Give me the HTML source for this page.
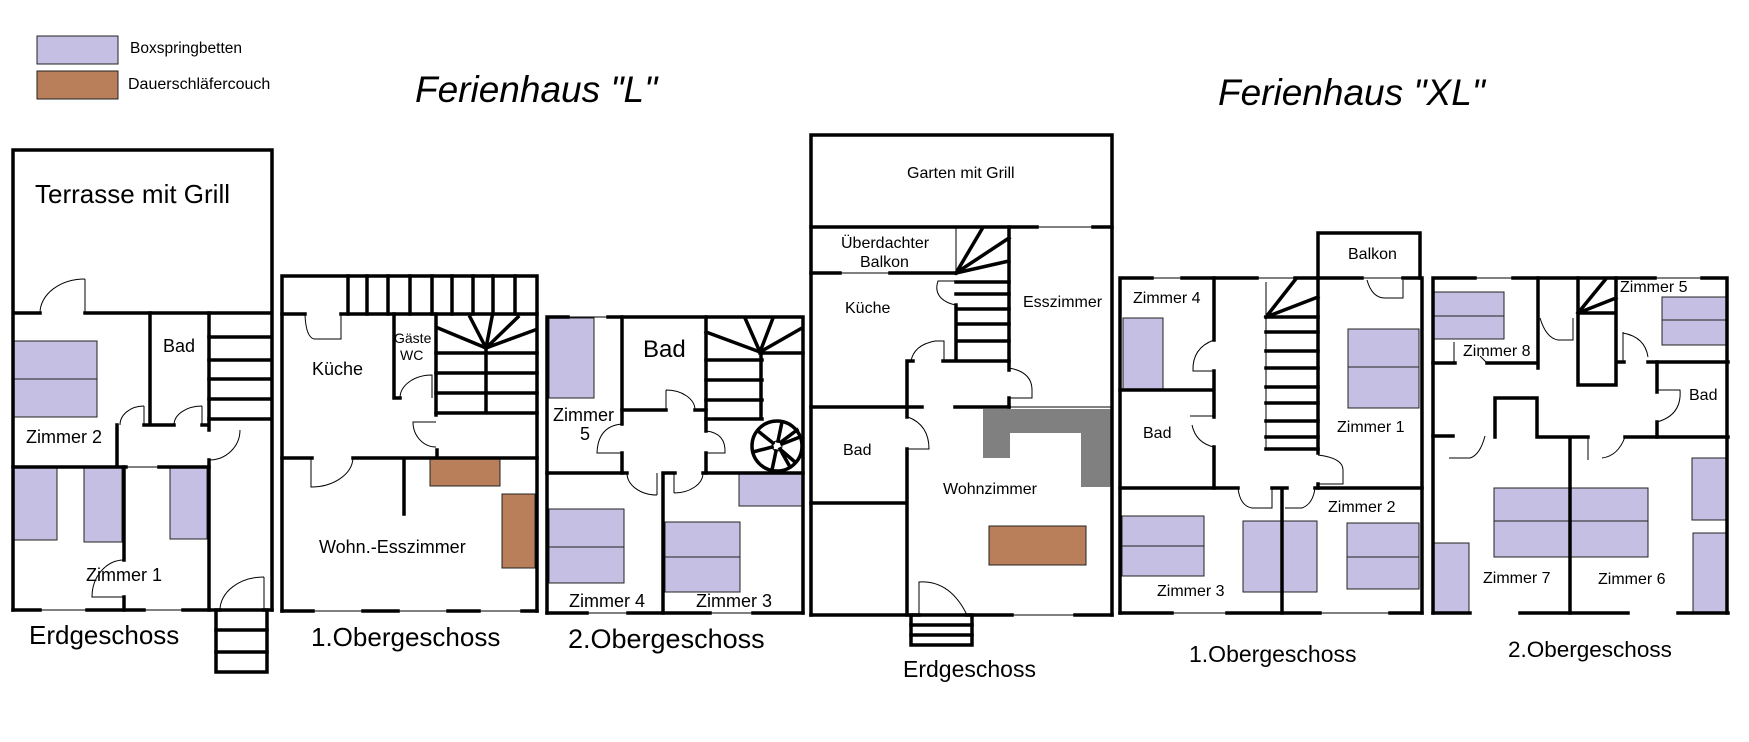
<!DOCTYPE html>
<html><head><meta charset="utf-8">
<style>
html,body{margin:0;padding:0;background:#fff;}
svg{display:block;}
.w{stroke:#000;stroke-width:3.5;stroke-linecap:square;fill:none;}
.t{stroke:#000;stroke-width:1;fill:none;}
.b{fill:#c5bfe3;stroke:#222;stroke-width:1;}
.c{fill:#b97e5a;stroke:#222;stroke-width:1;}
text{font-family:"Liberation Sans",Arial,sans-serif;fill:#000;}
</style></head>
<body>
<svg width="1749" height="742" viewBox="0 0 1749 742" xmlns="http://www.w3.org/2000/svg">
<rect width="1749" height="742" fill="#fff"/>

<!-- Legend -->
<rect x="37" y="36" width="81" height="28" class="b"/>
<rect x="37" y="71" width="81" height="28" class="c"/>
<text x="130" y="53" font-size="15.5">Boxspringbetten</text>
<text x="128" y="89" font-size="16">Dauerschläfercouch</text>

<!-- Titles -->
<text x="415" y="102" font-size="37" font-style="italic">Ferienhaus "L"</text>
<text x="1218" y="105" font-size="37" font-style="italic">Ferienhaus "XL"</text>

<!-- ================= L Erdgeschoss ================= -->
<rect x="14" y="341" width="83" height="38" class="b"/>
<rect x="14" y="379" width="83" height="38" class="b"/>
<rect x="14" y="468" width="43" height="72" class="b"/>
<rect x="84" y="468" width="38" height="74" class="b"/>
<rect x="170" y="468" width="37" height="71" class="b"/>

<path class="w" d="M13,313 V150 H272 V610 M13,313 V610 M13,313 H40 M85,313 H272"/>
<line class="t" x1="85" y1="279" x2="85" y2="313"/>
<path class="t" d="M40,313 A45,34 0 0 1 85,279"/>
<!-- Bad & stairs -->
<path class="w" d="M150,313 V425 M144,425 H174 M202,425 H209 M209,313 V430 M209,460 V610"/>
<path class="w" d="M209,337 H270 M209,360 H270 M209,379 H270 M209,399 H270 M209,419 H270"/>
<line class="t" x1="202" y1="406" x2="202" y2="425"/>
<path class="t" d="M174,425 A28,19 0 0 1 202,406"/>
<line class="t" x1="144" y1="406" x2="144" y2="425"/>
<path class="t" d="M120,425 A24,19 0 0 1 144,406"/>
<path class="t" d="M209,460 A31,30 0 0 0 240,430"/>
<path class="w" d="M117,425 V467 M13,467 H126 M159,467 H209"/>
<line class="t" x1="126" y1="467" x2="159" y2="467"/>
<path class="w" d="M124,467 V560 M124,597 V610"/>
<path class="t" d="M124,560 A32,37 0 0 0 92,597 H124"/>
<path class="w" d="M13,610 H40 M87,610 H144 M183,610 H220 M264,610 H272"/>
<path class="t" d="M40,610 H87 M144,610 H183"/>
<line class="t" x1="264" y1="577" x2="264" y2="610"/>
<path class="t" d="M220,610 A44,33 0 0 1 264,577"/>
<rect x="216" y="610" width="51" height="62" class="w"/>
<path class="w" d="M216,630 H267 M216,652 H267"/>
<text x="35" y="203" font-size="26">Terrasse mit Grill</text>
<text x="163" y="352" font-size="18">Bad</text>
<text x="26" y="443" font-size="18">Zimmer 2</text>
<text x="86" y="581" font-size="18">Zimmer 1</text>
<text x="29" y="644" font-size="26">Erdgeschoss</text>

<!-- ================= L 1.Obergeschoss ================= -->
<rect x="430" y="458" width="70" height="28" class="c"/>
<rect x="502" y="494" width="33" height="74" class="c"/>
<path class="w" d="M282,611 V276 H537 V611"/>
<path class="w" d="M282,611 H313 M363,611 H398 M448,611 H479 M522,611 H537"/>
<path class="t" d="M313,611 H363 M398,611 H448 M479,611 H522"/>
<path class="w" d="M348,276 V314 M367,276 V314 M388,276 V314 M410,276 V314 M432,276 V314 M452,276 V314 M473,276 V314 M493,276 V314 M515,276 V314"/>
<path class="w" d="M282,314 H305 M341,314 H537"/>
<path class="t" d="M341,314 V339 H314 M305,315 Q306,337 314,339"/>
<path class="w" d="M394,314 V398 H400 M436,314 V415"/>
<path class="t" d="M400,398 A32,23 0 0 1 432,375 V398"/>
<path class="w" d="M486,348 L438,328 M486,348 L470,317 M486,348 L492,317 M486,348 L518,317 M486,348 L535,330"/>
<path class="w" d="M436,353 H537 M436,373 H537 M436,393 H537 M436,413 H537 M486,348 V413"/>
<path class="t" d="M436,422 H413 A23,25 0 0 0 436,447"/>
<path class="w" d="M437,450 V457"/>
<path class="w" d="M282,458 H312 M353,458 H537 M404,458 V514"/>
<path class="t" d="M311,458 V487 A42,30 0 0 0 353,458"/>
<text x="312" y="375" font-size="18">Küche</text>
<text x="394" y="343" font-size="14">Gäste</text>
<text x="400" y="360" font-size="14">WC</text>
<text x="319" y="553" font-size="18">Wohn.-Esszimmer</text>
<text x="311" y="646" font-size="26">1.Obergeschoss</text>

<!-- ================= L 2.Obergeschoss ================= -->
<rect x="549" y="318" width="45" height="80" class="b"/>
<rect x="549" y="509" width="75" height="38" class="b"/>
<rect x="549" y="547" width="75" height="36" class="b"/>
<rect x="665" y="522" width="75" height="35" class="b"/>
<rect x="665" y="557" width="75" height="35" class="b"/>
<rect x="739" y="473" width="63" height="33" class="b"/>
<path class="w" d="M547,317 V613 M803,317 V613 M547,317 H568 M608,317 H803"/>
<path class="t" d="M568,317 H608"/>
<path class="w" d="M547,613 H587 M628,613 H710 M753,613 H803"/>
<path class="t" d="M587,613 H628 M710,613 H753"/>
<path class="w" d="M622,317 V424 M622,453 V473 M706,317 V431 M706,453 V473"/>
<path class="t" d="M622,424 Q598,426 597,453 H622"/>
<path class="t" d="M706,431 Q726,433 725,453 H706"/>
<path class="w" d="M622,410 H666 M695,410 H706"/>
<path class="t" d="M666,390 V410 M666,390 A29,20 0 0 1 695,410"/>
<path class="w" d="M547,473 H627 M663,473 V613 M663,473 H675 M703,473 H803"/>
<path class="t" d="M657,473 V495 M627,473 A30,22 0 0 0 657,495"/>
<path class="t" d="M674,473 V493 M674,493 A29,20 0 0 0 703,473"/>
<path class="w" d="M760,352 L706,332 M760,352 L745,318 M760,352 L773,318 M760,352 L802,328 M760,353 H803"/>
<path class="w" d="M706,360 H762 M706,380 H762 M706,400 H762 M706,419 H762 M761,352 V419"/>
<circle cx="777" cy="446" r="25" class="w" stroke-width="3"/>
<circle cx="777" cy="446" r="5" class="t" stroke-width="1.5"/>
<path class="w" stroke-width="2.5" d="M782,444 L800,437 M781,450 L795,462 M776,451 L772,470 M772,447 L753,452 M773,443 L758,431 M778,441 L782,422 M781,442 L797,430 M780,449 L790,467"/>
<text x="643" y="357" font-size="24">Bad</text>
<text x="553" y="421" font-size="18">Zimmer</text>
<text x="580" y="440" font-size="18">5</text>
<text x="569" y="607" font-size="18">Zimmer 4</text>
<text x="696" y="607" font-size="18">Zimmer 3</text>
<text x="568" y="648" font-size="27">2.Obergeschoss</text>

<!-- ================= XL Erdgeschoss ================= -->
<polygon points="983,409 1112,409 1112,487 1081,487 1081,433 1010,433 1010,458 983,458" fill="#808080"/>
<rect x="989" y="526" width="97" height="39" class="c"/>
<path class="w" d="M811,615 V135 H1112 V615"/>
<path class="w" d="M811,227 H1037 M1093,227 H1112"/>
<path class="t" d="M1037,227 H1093"/>
<path class="w" d="M811,273 H840 M890,273 H956"/>
<path class="t" d="M840,273 H890 M956,227 V273"/>
<path class="w" d="M956,273 L982,229 M956,273 L1009,238 M956,273 L1009,261 M1009,227 V370"/>
<path class="w" d="M956,282 H1009 M956,294 H1009 M956,309 H1009 M956,324 H1009 M956,341 H1009 M943,361 H1009 M956,305 V361"/>
<path class="t" d="M958,281 H938 C933,296 945,303 956,305"/>
<path class="t" d="M944,361 V341 H935 Q914,345 911,361"/>
<path class="w" d="M907,361 V417 M907,361 H913"/>
<path class="t" d="M1009,368 Q1032,372 1032,390 V398 H1009"/>
<path class="w" d="M1009,398 V407"/>
<path class="w" d="M811,407 H922 M955,407 H1009"/>
<path class="t" d="M1009,407 H1112"/>
<path class="t" d="M908,417 Q929,425 929,449 H907"/>
<path class="w" d="M907,449 V615 M811,503 H907"/>
<path class="w" d="M811,615 H919 M967,615 H1012 M1075,615 H1112"/>
<path class="t" d="M1012,615 H1075"/>
<path class="t" d="M919,615 V582 Q950,580 967,615"/>
<rect x="911" y="615" width="61" height="30" class="w"/>
<path class="w" d="M911,625 H972 M911,635 H972"/>
<text x="907" y="178" font-size="16">Garten mit Grill</text>
<text x="841" y="248" font-size="16">Überdachter</text>
<text x="860" y="267" font-size="16">Balkon</text>
<text x="845" y="313" font-size="16">Küche</text>
<text x="1023" y="307" font-size="16">Esszimmer</text>
<text x="843" y="455" font-size="16">Bad</text>
<text x="943" y="494" font-size="16">Wohnzimmer</text>
<text x="903" y="677" font-size="23">Erdgeschoss</text>

<!-- ================= XL 1.Obergeschoss ================= -->
<rect x="1123" y="318" width="40" height="71" class="b"/>
<rect x="1348" y="329" width="71" height="38" class="b"/>
<rect x="1348" y="367" width="71" height="41" class="b"/>
<rect x="1122" y="516" width="82" height="30" class="b"/>
<rect x="1122" y="546" width="82" height="30" class="b"/>
<rect x="1243" y="521" width="74" height="71" class="b"/>
<rect x="1347" y="523" width="72" height="34" class="b"/>
<rect x="1347" y="557" width="72" height="32" class="b"/>
<path class="w" d="M1318,278 V233 H1420 V278"/>
<path class="w" d="M1120,613 V278 H1152 M1182,278 H1257 M1295,278 H1362 M1403,278 H1422 V613"/>
<path class="t" d="M1152,278 H1182 M1257,278 H1295 M1362,278 H1403"/>
<path class="t" d="M1367,280 Q1372,298 1385,298 H1403 V280"/>
<path class="w" d="M1214,278 V340 M1214,371 V417 M1214,447 V488 M1120,390 H1214"/>
<path class="t" d="M1214,340 Q1192,348 1193,371 H1214"/>
<path class="t" d="M1214,416 H1190 M1192,425 Q1196,443 1214,447"/>
<path class="t" stroke-width="1.5" d="M1266,282 V449"/>
<path class="w" d="M1318,278 V453 M1266,317 L1295,280 M1266,317 L1318,297"/>
<path class="w" d="M1266,317 H1318 M1266,332 H1318 M1266,351 H1318 M1266,368 H1318 M1266,387 H1318 M1266,403 H1318 M1266,421 H1318 M1266,437 H1318 M1266,449 H1318"/>
<path class="t" d="M1318,455 Q1343,458 1343,470 V484 H1318"/>
<path class="w" d="M1318,484 V488"/>
<path class="w" d="M1120,488 H1238 M1272,488 H1287 M1315,488 H1422 M1282,488 V613"/>
<path class="t" d="M1238,488 Q1240,506 1252,508 H1272 V488"/>
<path class="t" d="M1285,508 H1302 Q1313,504 1315,488"/>
<path class="w" d="M1120,613 H1172 M1227,613 H1320 M1390,613 H1422"/>
<path class="t" d="M1172,613 H1227 M1320,613 H1390"/>
<text x="1348" y="259" font-size="16">Balkon</text>
<text x="1133" y="303" font-size="16">Zimmer 4</text>
<text x="1143" y="438" font-size="16">Bad</text>
<text x="1337" y="432" font-size="16">Zimmer 1</text>
<text x="1328" y="512" font-size="16">Zimmer 2</text>
<text x="1157" y="596" font-size="16">Zimmer 3</text>
<text x="1189" y="662" font-size="23">1.Obergeschoss</text>

<!-- ================= XL 2.Obergeschoss ================= -->
<rect x="1434" y="292" width="70" height="24" class="b"/>
<rect x="1434" y="316" width="70" height="23" class="b"/>
<rect x="1662" y="297" width="65" height="23" class="b"/>
<rect x="1662" y="320" width="65" height="25" class="b"/>
<rect x="1494" y="488" width="154" height="33" class="b"/>
<rect x="1494" y="521" width="154" height="36" class="b"/>
<rect x="1433" y="543" width="36" height="70" class="b"/>
<rect x="1692" y="458" width="35" height="62" class="b"/>
<rect x="1693" y="533" width="34" height="80" class="b"/>
<path class="w" d="M1433,613 V278 H1475 M1513,278 H1655 M1702,278 H1727 V613"/>
<path class="t" d="M1475,278 H1513 M1655,278 H1702"/>
<path class="w" d="M1433,363 H1455 M1487,363 H1537 M1538,278 V368"/>
<path class="t" d="M1454,342 V363 M1480,356 Q1484,360 1487,363"/>
<path class="w" d="M1578,278 V385 H1616 V278 M1578,313 H1616 M1578,313 L1605,280 M1578,313 L1616,298"/>
<path class="t" d="M1540,318 Q1546,338 1558,340 H1573 V318"/>
<path class="w" d="M1618,362 H1624 M1648,362 H1728"/>
<path class="t" d="M1623,332 V362 M1623,333 Q1645,337 1648,357"/>
<path class="w" d="M1657,362 V392 M1657,422 V437"/>
<path class="t" d="M1657,390 H1680 Q1682,415 1657,422"/>
<path class="w" d="M1433,436 H1453 M1495,398 V437 M1495,398 H1537 V437 H1588 M1625,437 H1728 M1570,437 V613"/>
<path class="t" d="M1449,458 H1470 Q1480,455 1485,436"/>
<path class="t" d="M1588,437 V460 M1602,458 Q1618,456 1625,437"/>
<path class="w" d="M1433,613 H1470 M1520,613 H1628 M1678,613 H1728"/>
<text x="1463" y="356" font-size="16">Zimmer 8</text>
<text x="1620" y="292" font-size="16">Zimmer 5</text>
<text x="1689" y="400" font-size="16">Bad</text>
<text x="1483" y="583" font-size="16">Zimmer 7</text>
<text x="1598" y="584" font-size="16">Zimmer 6</text>
<text x="1508" y="657" font-size="22.5">2.Obergeschoss</text>
</svg>
</body></html>
